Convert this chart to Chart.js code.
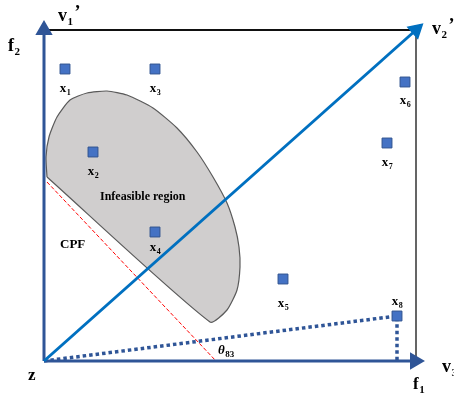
<!DOCTYPE html>
<html>
<head>
<meta charset="utf-8">
<script src="https://cdn.jsdelivr.net/npm/chart.js@4"></script>
<style>
    html, body { margin: 0; padding: 0; background: #fff; }
</style>
</head>
<body>
<canvas id="chart" width="454" height="400"></canvas>
<script>
/* ================= DATA (objective space, z at the origin) ================= */
const pointNames = ['1', '2', '3', '4', '5', '6', '7', '8'];
const pointF1 = [21, 49, 111, 111, 239, 361, 343, 353];
const pointF2 = [292, 209, 292, 129, 82, 279, 218, 45];

// boundary of the infeasible region
const regionF1 = [3, 166, 183, 193, 196, 195, 191, 183, 169, 153, 133, 109, 83, 63, 43, 26, 13, 5, 2, 3];
const regionF2 = [184, 39, 51, 71, 94, 114, 134, 158, 184, 209, 233, 253, 266, 270, 268, 261, 244, 224, 204, 184];

// constrained Pareto front (red dashed)
const cpfF1 = [3, 172];
const cpfF2 = [179, 0];

// reference vectors and box
const v2End = [372, 331];
const f1End = [371, 0];
const f2End = [0, 331];
const boxF1 = [4, 372, 372];
const boxF2 = [331, 331, 0];

const toXY = (xs, ys) => xs.map((v, i) => ({ x: v, y: ys[i] }));
const angleTo = (p) => Math.atan2(p[0], p[1]) * 180 / Math.PI;

const SERIF = '"Liberation Serif", "Times New Roman", serif';
const AXIS_BLUE = '#2F5597';

function arrowSet(end, color, order) {
    return {
        data: [{ x: 0, y: 0 }, { x: end[0], y: end[1] }],
        showLine: true,
        borderColor: color,
        borderWidth: 3,
        pointRadius: [0, 7],
        pointStyle: 'triangle',
        rotation: [0, angleTo(end)],
        pointBackgroundColor: color,
        pointBorderColor: color,
        order: order
    };
}

/* ================= TEXT ================= */
function drawSub(ctx, x, y, main, sub, o) {
    const size = o.size, subSize = o.subSize || Math.round(size * 0.62);
    const mainFont = `${o.italic ? 'italic ' : ''}bold ${size}px ${SERIF}`;
    const subFont = `bold ${subSize}px ${SERIF}`;
    ctx.font = mainFont;
    const w1 = ctx.measureText(main).width;
    ctx.font = subFont;
    const w2 = sub ? ctx.measureText(sub).width : 0;
    let sx = o.center ? x - (w1 + w2) / 2 : x;
    ctx.fillStyle = '#000';
    ctx.textBaseline = 'alphabetic';
    ctx.textAlign = 'left';
    ctx.font = mainFont;
    ctx.fillText(main, sx, y);
    if (sub) {
        ctx.font = subFont;
        ctx.fillText(sub, sx + w1 + 0.5, y + size * 0.22);
    }
    if (o.prime) {
        ctx.font = mainFont;
        ctx.fillText('\u2019', sx + w1 + w2 + 2, y - size * 0.15);
    }
}

const labelPlugin = {
    id: 'labels',
    afterDatasetsDraw(chart) {
        const { ctx, scales: { x, y } } = chart;
        const px = v => x.getPixelForValue(v);
        const py = v => y.getPixelForValue(v);
        ctx.save();

        // point names
        const below = [23, 23, 23, 19, 28, 22, 23, -11];
        pointNames.forEach((n, i) => {
            drawSub(ctx, px(pointF1[i]), py(pointF2[i]) + below[i], 'x', n, { size: 13, subSize: 8, center: true });
        });

        drawSub(ctx, px(14), py(340), 'v', '1', { size: 18, subSize: 11, prime: true });
        drawSub(ctx, px(-36), py(310), 'f', '2', { size: 18, subSize: 11 });
        drawSub(ctx, px(388), py(327), 'v', '2', { size: 18, subSize: 11, prime: true });
        drawSub(ctx, px(398), py(-11), 'v', '3', { size: 18, subSize: 11 });
        drawSub(ctx, px(369), py(-28), 'f', '1', { size: 17, subSize: 11 });
        drawSub(ctx, px(-16), py(-19), 'z', '', { size: 17 });
        drawSub(ctx, px(16), py(113), 'CPF', '', { size: 13 });
        drawSub(ctx, px(56), py(161), 'Infeasible region', '', { size: 12 });
        drawSub(ctx, px(174), py(7), '\u03B8', '83', { size: 13, subSize: 9, italic: true });

        ctx.restore();
    }
};

/* ================= CHART ================= */
new Chart(document.getElementById('chart'), {
    type: 'scatter',
    data: {
        datasets: [
            {
                data: toXY(pointF1, pointF2),
                pointStyle: 'rect',
                pointRadius: 7,
                pointBackgroundColor: '#4472C4',
                pointBorderColor: '#2F528F',
                pointBorderWidth: 1,
                order: 0
            },
            arrowSet(v2End, '#0070C0', 1),
            arrowSet(f2End, AXIS_BLUE, 2),
            arrowSet(f1End, AXIS_BLUE, 3),
            {
                // z -> x8 and x8 down to f1
                data: [{ x: 0, y: 0 }, { x: pointF1[7], y: pointF2[7] }, { x: pointF1[7], y: 0 }],
                showLine: true,
                borderColor: AXIS_BLUE,
                borderWidth: 3.5,
                borderDash: [3.5, 3],
                pointRadius: 0,
                order: 4
            },
            {
                data: toXY(boxF1, boxF2),
                showLine: true,
                borderWidth: 1.8,
                borderColor: '#222',
                segment: { borderColor: c => c.p0DataIndex === 0 ? '#111' : '#555' },
                pointRadius: 0,
                order: 5
            },
            {
                data: toXY(cpfF1, cpfF2),
                showLine: true,
                borderColor: '#FF0000',
                borderWidth: 1,
                borderDash: [4, 2],
                pointRadius: 0,
                order: 6
            },
            {
                data: toXY(regionF1, regionF2),
                showLine: true,
                fill: 'shape',
                backgroundColor: '#D0CECE',
                borderColor: '#5a5a5a',
                borderWidth: 1.2,
                tension: 0.2,
                pointRadius: 0,
                order: 7
            }
        ]
    },
    options: {
        responsive: false,
        animation: false,
        layout: { padding: 0, autoPadding: false },
        clip: false,
        plugins: { legend: { display: false }, tooltip: { enabled: false } },
        scales: {
            x: { type: 'linear', display: false, min: -44, max: 410 },
            y: { type: 'linear', display: false, min: -39, max: 361 }
        }
    },
    plugins: [labelPlugin]
});
</script>
</body>
</html>
